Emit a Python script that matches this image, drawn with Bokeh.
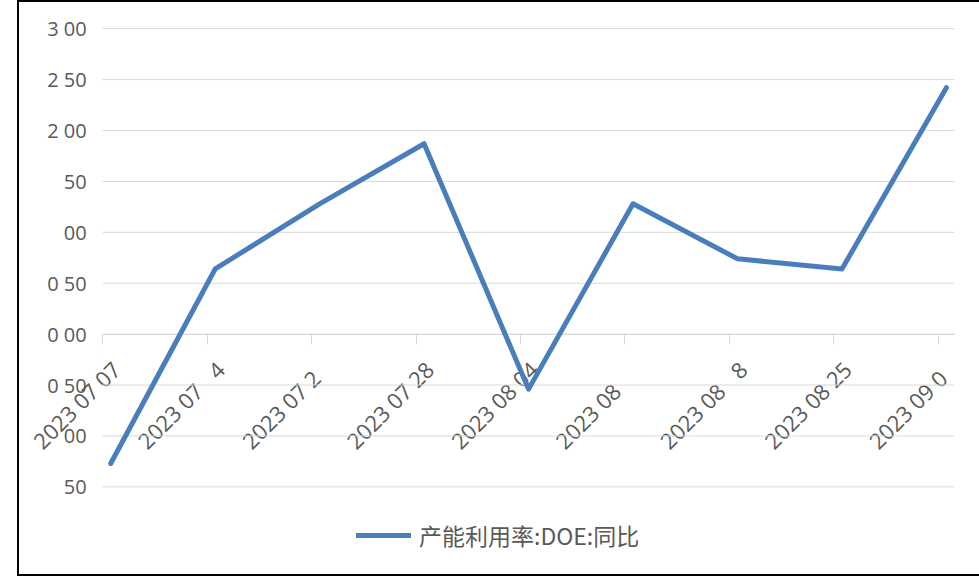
import math
from bokeh.plotting import figure
from bokeh.models import (FixedTicker, LinearAxis, Range1d, Legend, LegendItem,
                          CustomJSTickFormatter)
from bokeh.embed import file_html
from bokeh.resources import INLINE

# ---- data ----
dates = ["2023-07-07", "2023-07-14", "2023-07-21", "2023-07-28", "2023-08-04",
         "2023-08-11", "2023-08-18", "2023-08-25", "2023-09-01"]
# tick labels as they appear in the reference (missing glyphs shown as blanks)
x_labels = ["2023 07 07", "2023 07\u00a0\u20074", "2023 07 2\u2007", "2023 07 28",
            "2023 08 04", "2023 08\u00a0\u2007\u2007", "2023 08\u00a0\u20078",
            "2023 08 25", "2023 09 0\u2007"]
values = [-1.27, 0.64, 1.28, 1.87, -0.54, 1.28, 0.74, 0.64, 2.42]
y_ticks = [-1.5, -1.0, -0.5, 0.0, 0.5, 1.0, 1.5, 2.0, 2.5, 3.0]
y_labels = ["50", "00", "0 50", "0 00", "0 50", "00", "50", "2 00", "2 50", "3 00"]
series_name = "产能利用率:DOE:同比"

x = list(range(len(values)))

# ---- layout (pixels) ----
W, H = 960, 572               # canvas size
plot_l, plot_r = 83, 933      # plot area inside canvas
plot_t, plot_b = 26, 481
half = 0.077                  # category padding at both ends (in category units)
x_lo, x_hi = x[0] - half, x[-1] + half
y_lo, y_hi = y_ticks[0], y_ticks[-1]
sx = (plot_r - plot_l) / (x_hi - x_lo)
sy = (plot_b - plot_t) / (y_hi - y_lo)
xr = Range1d(x_lo - plot_l / sx, x_hi + (W - plot_r) / sx)
yr = Range1d(y_lo - (H - plot_b) / sy, y_hi + plot_t / sy)

p = figure(width=W, height=H, x_range=xr, y_range=yr,
           output_backend="svg", toolbar_location=None,
           x_axis_type=None, y_axis_type=None,
           min_border=0, min_border_left=0, min_border_right=0,
           min_border_top=0, min_border_bottom=0)
p.outline_line_color = None
p.background_fill_color = "white"
p.border_fill_color = "white"
p.xgrid.visible = False
p.ygrid.visible = False
p.styles = {"border": "2px solid black", "border-right": "none",
            "box-sizing": "content-box", "margin": "0px 0px 0px 17px"}

# horizontal gridlines over the plot area
n = len(y_ticks)
p.segment(x0=[x_lo] * n, x1=[x_hi] * n, y0=y_ticks, y1=y_ticks,
          line_color="#d9d9d9", line_width=1)

label_font = "Open Sans"
label_color = "#595959"

yaxis = LinearAxis(fixed_location=x_lo,
                   ticker=FixedTicker(ticks=y_ticks),
                   major_label_overrides={t: l for t, l in zip(y_ticks, y_labels)},
                   axis_line_color=None, major_tick_line_color=None,
                   minor_tick_line_color=None,
                   major_tick_in=0, major_tick_out=0,
                   major_label_text_font=label_font,
                   major_label_text_font_size="20px",
                   major_label_text_color=label_color,
                   major_label_standoff=16, level="underlay")
p.add_layout(yaxis, "left")

# category axis line with tick marks between categories
xtick_axis = LinearAxis(fixed_location=0, bounds=(x_lo - 1e-4, x_hi + 1e-4),
                        ticker=FixedTicker(ticks=[i - half for i in x]),
                        formatter=CustomJSTickFormatter(code="return ''"),
                        axis_line_color="#d9d9d9", axis_line_width=1,
                        major_tick_line_color="#d9d9d9",
                        major_tick_in=0, major_tick_out=10,
                        minor_tick_line_color=None, level="underlay")
p.add_layout(xtick_axis, "below")

# rotated category labels
xlabel_axis = LinearAxis(fixed_location=0,
                         ticker=FixedTicker(ticks=[i + 0.05 for i in x]),
                         formatter=CustomJSTickFormatter(args=dict(labels=x_labels),
                                                         code="return labels[index]"),
                         axis_line_color=None, major_tick_line_color=None,
                         minor_tick_line_color=None,
                         major_tick_in=0, major_tick_out=0,
                         major_label_orientation=math.pi / 4,
                         major_label_standoff=31,
                         major_label_text_font=label_font,
                         major_label_text_font_size="22px",
                         major_label_text_color=label_color, level="underlay")
p.add_layout(xlabel_axis, "below")

r = p.line(x, values, line_width=5, line_color="#4a7ebb",
           line_join="round", line_cap="round")

legend = Legend(items=[LegendItem(label=series_name, renderers=[r])],
                location=(337, 26), orientation="horizontal",
                border_line_color=None, background_fill_alpha=0,
                label_text_font="Noto Sans CJK SC",
                label_text_font_size="23px",
                label_text_color=label_color,
                glyph_width=55, glyph_height=20,
                label_standoff=8, padding=5, margin=0, spacing=0)
p.add_layout(legend, "center")

open("out.html", "w").write(file_html(p, INLINE))
